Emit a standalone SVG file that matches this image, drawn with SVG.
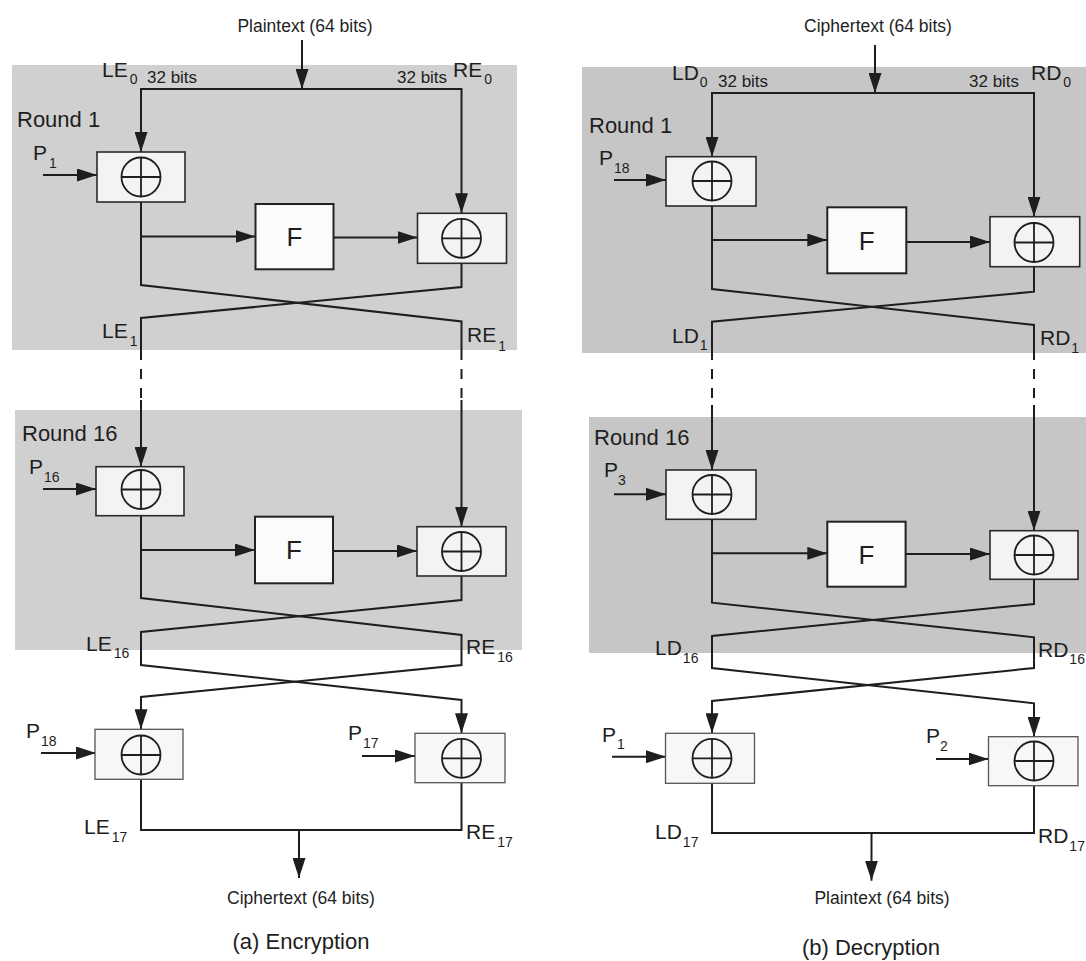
<svg xmlns="http://www.w3.org/2000/svg" width="1086" height="961" viewBox="0 0 1086 961">
<style>
.bg{fill:#d0d0d0}
.bgd{fill:#c6c6c6}
.box{fill:#f3f3f3;stroke:#2a2a2a;stroke-width:1.6}
.boxl{fill:#f7f7f7;stroke:#555;stroke-width:1.3}
.fbox{fill:#fbfbfb;stroke:#222;stroke-width:2}
.ln{fill:none;stroke:#1e1e1e;stroke-width:2}
.arr{marker-end:url(#ah)}
.dash{stroke-dasharray:10 9}
text{font-family:"Liberation Sans",Arial,sans-serif;fill:#1e1e1e}
.lbl{font-size:21px}
.sub{font-size:14px}
.bits{font-size:17px}
.rnd{font-size:22px}
.io{font-size:17.5px;text-anchor:middle}
.cap{font-size:22px;text-anchor:middle}
.f{font-size:26px;text-anchor:middle}
</style>
<defs>
<marker id="ah" viewBox="0 0 20 13" refX="20" refY="6.5" markerWidth="20" markerHeight="13" markerUnits="userSpaceOnUse" orient="auto">
<path d="M0,0 L20,6.5 L0,13 z" fill="#1e1e1e"/>
</marker>
<g id="xs">
<circle r="19.5" fill="none" stroke="#1e1e1e" stroke-width="1.8"/>
<path d="M-19.5,0 H19.5 M0,-19.5 V19.5" stroke="#1e1e1e" stroke-width="1.8"/>
</g>
</defs>

<g id="backgrounds">
<rect class="bg" x="12" y="65" width="505" height="285"/>
<rect class="bg" x="15" y="410" width="507" height="240"/>
<rect class="bgd" x="582" y="67" width="504" height="286"/>
<rect class="bgd" x="589" y="417" width="497" height="236"/>
</g>

<g id="connectors">
<!-- Encryption -->
<path class="ln arr" d="M302,40 V89"/>
<path class="ln arr" d="M302,89 H141 V152"/>
<path class="ln arr" d="M302,89 H461.5 V213.3"/>
<path class="ln arr" d="M43,175 H97"/>
<path class="ln arr" d="M141,236.5 H255.5"/>
<path class="ln arr" d="M333.4,237.5 H417.5"/>
<path class="ln" d="M141,202 V285 L461.5,321.5 V350"/>
<path class="ln" d="M461.5,263.3 V287 L141,318 V350"/>
<path class="ln dash" d="M141,350 V400"/>
<path class="ln dash" d="M461.5,350 V400"/>
<path class="ln arr" d="M141,400 V466.7"/>
<path class="ln arr" d="M461.5,400 V526.7"/>
<path class="ln arr" d="M43,489 H96"/>
<path class="ln arr" d="M141,550 H255"/>
<path class="ln arr" d="M333,551 H417"/>
<path class="ln arr" d="M141,515.7 V598 L461.5,635 V665 L141,697 V729.3"/>
<path class="ln arr" d="M461.5,576 V600 L141,632 V665 L461.5,700 V733.3"/>
<path class="ln arr" d="M41,753 H96"/>
<path class="ln arr" d="M362,756 H415"/>
<path class="ln" d="M141,779.3 V830 H461.5 V782.7"/>
<path class="ln arr" d="M299,830 V878"/>
<!-- Decryption -->
<path class="ln arr" d="M875,45 V93"/>
<path class="ln arr" d="M875,93 H712 V156.7"/>
<path class="ln arr" d="M875,93 H1034 V216.7"/>
<path class="ln arr" d="M614,180 H666"/>
<path class="ln arr" d="M712,240 H827.3"/>
<path class="ln arr" d="M906.3,242 H990"/>
<path class="ln" d="M712,206 V289 L1034,325 V350"/>
<path class="ln" d="M1034,266.7 V291.7 L712,321.7 V350"/>
<path class="ln dash" d="M712,350 V405"/>
<path class="ln dash" d="M1034,350 V405"/>
<path class="ln arr" d="M712,405 V470"/>
<path class="ln arr" d="M1034,405 V530.7"/>
<path class="ln arr" d="M614,494.3 H666"/>
<path class="ln arr" d="M712,553.3 H827.3"/>
<path class="ln arr" d="M905.6,554 H990"/>
<path class="ln arr" d="M712,519.3 V602.7 L1034,637.3 V668 L712,701 V733.3"/>
<path class="ln arr" d="M1034,579.3 V604 L712,636 V668 L1034,703.3 V736.7"/>
<path class="ln arr" d="M612,756.7 H666"/>
<path class="ln arr" d="M936,759 H988.5"/>
<path class="ln" d="M712,783.3 V833 H1034 V785.7"/>
<path class="ln arr" d="M871.5,833 V880.7"/>
</g>

<!-- Encryption nodes -->
<g id="enc-r1-xorL"><rect class="box" x="97" y="152" width="88" height="50"/><use href="#xs" x="141" y="177"/></g>
<g id="enc-r1-F"><rect class="fbox" x="255.5" y="204" width="78" height="65.3"/><text class="f" x="294.5" y="246">F</text></g>
<g id="enc-r1-xorR"><rect class="box" x="417.5" y="213.3" width="89" height="50"/><use href="#xs" x="461.5" y="238.3"/></g>
<g id="enc-r16-xorL"><rect class="box" x="96" y="466.7" width="88" height="49"/><use href="#xs" x="141" y="489.5"/></g>
<g id="enc-r16-F"><rect class="fbox" x="255" y="516.7" width="78" height="66.6"/><text class="f" x="294" y="559">F</text></g>
<g id="enc-r16-xorR"><rect class="box" x="417" y="526.7" width="89" height="49.3"/><use href="#xs" x="461.5" y="551.5"/></g>
<g id="enc-out-xorL"><rect class="boxl" x="95" y="729.3" width="88" height="50"/><use href="#xs" x="141" y="755"/></g>
<g id="enc-out-xorR"><rect class="boxl" x="415" y="733.3" width="90" height="49.4"/><use href="#xs" x="461.5" y="758.3"/></g>

<!-- Decryption nodes -->
<g id="dec-r1-xorL"><rect class="box" x="666" y="156.7" width="90" height="49.3"/><use href="#xs" x="712" y="181"/></g>
<g id="dec-r1-F"><rect class="fbox" x="827.3" y="207.3" width="79" height="66"/><text class="f" x="866.8" y="249.5">F</text></g>
<g id="dec-r1-xorR"><rect class="box" x="990" y="216.7" width="89.7" height="50"/><use href="#xs" x="1034" y="242.5"/></g>
<g id="dec-r16-xorL"><rect class="box" x="666" y="470" width="90" height="49.3"/><use href="#xs" x="712" y="494.5"/></g>
<g id="dec-r16-F"><rect class="fbox" x="827.3" y="521.7" width="78.3" height="65"/><text class="f" x="866.5" y="563.5">F</text></g>
<g id="dec-r16-xorR"><rect class="box" x="990" y="530.7" width="88" height="48.6"/><use href="#xs" x="1034" y="555"/></g>
<g id="dec-out-xorL"><rect class="boxl" x="665.5" y="733.3" width="89" height="50"/><use href="#xs" x="712" y="758.3"/></g>
<g id="dec-out-xorR"><rect class="boxl" x="988.5" y="736.7" width="89.5" height="49"/><use href="#xs" x="1034" y="761"/></g>

<g id="labels-enc">
<text class="io" x="305" y="32">Plaintext (64 bits)</text>
<text class="lbl" x="102" y="77">LE<tspan class="sub" dx="2" dy="7">0</tspan></text>
<text class="bits" x="147" y="83">32 bits</text>
<text class="bits" x="397" y="83">32 bits</text>
<text class="lbl" x="453" y="77">RE<tspan class="sub" dx="2" dy="7">0</tspan></text>
<text class="rnd" x="17" y="127">Round 1</text>
<text class="lbl" x="33" y="160">P<tspan class="sub" dx="2" dy="8">1</tspan></text>
<text class="lbl" x="102" y="338">LE<tspan class="sub" dx="2" dy="8">1</tspan></text>
<text class="lbl" x="467" y="342">RE<tspan class="sub" dx="2" dy="9">1</tspan></text>
<text class="rnd" x="22" y="441">Round 16</text>
<text class="lbl" x="29" y="474">P<tspan class="sub" dx="1" dy="8">16</tspan></text>
<text class="lbl" x="86" y="651">LE<tspan class="sub" dx="2" dy="7">16</tspan></text>
<text class="lbl" x="466" y="654">RE<tspan class="sub" dx="2" dy="8">16</tspan></text>
<text class="lbl" x="26" y="738">P<tspan class="sub" dx="1" dy="8">18</tspan></text>
<text class="lbl" x="348" y="740">P<tspan class="sub" dx="1" dy="8">17</tspan></text>
<text class="lbl" x="84" y="834">LE<tspan class="sub" dx="2" dy="8">17</tspan></text>
<text class="lbl" x="466" y="839">RE<tspan class="sub" dx="2" dy="8">17</tspan></text>
<text class="io" x="301" y="904">Ciphertext (64 bits)</text>
<text class="cap" x="301" y="949">(a) Encryption</text>
</g>

<g id="labels-dec">
<text class="io" x="878" y="32">Ciphertext (64 bits)</text>
<text class="lbl" x="672" y="80">LD<tspan class="sub" dx="1" dy="7">0</tspan></text>
<text class="bits" x="718" y="87">32 bits</text>
<text class="bits" x="969" y="87">32 bits</text>
<text class="lbl" x="1031" y="80">RD<tspan class="sub" dx="2" dy="7">0</tspan></text>
<text class="rnd" x="589" y="133">Round 1</text>
<text class="lbl" x="599" y="165">P<tspan class="sub" dx="1" dy="8">18</tspan></text>
<text class="lbl" x="672" y="343">LD<tspan class="sub" dx="1" dy="7">1</tspan></text>
<text class="lbl" x="1040" y="345">RD<tspan class="sub" dx="1" dy="8">1</tspan></text>
<text class="rnd" x="594" y="445">Round 16</text>
<text class="lbl" x="604" y="477">P<tspan class="sub" dx="0" dy="8">3</tspan></text>
<text class="lbl" x="655" y="655">LD<tspan class="sub" dx="1" dy="8">16</tspan></text>
<text class="lbl" x="1038" y="657">RD<tspan class="sub" dx="1" dy="7">16</tspan></text>
<text class="lbl" x="602" y="742">P<tspan class="sub" dx="1" dy="7">1</tspan></text>
<text class="lbl" x="926" y="743">P<tspan class="sub" dx="0" dy="8">2</tspan></text>
<text class="lbl" x="655" y="839">LD<tspan class="sub" dx="1" dy="8">17</tspan></text>
<text class="lbl" x="1038" y="843">RD<tspan class="sub" dx="1" dy="8">17</tspan></text>
<text class="io" x="882" y="904">Plaintext (64 bits)</text>
<text class="cap" x="871" y="955">(b) Decryption</text>
</g>
</svg>
